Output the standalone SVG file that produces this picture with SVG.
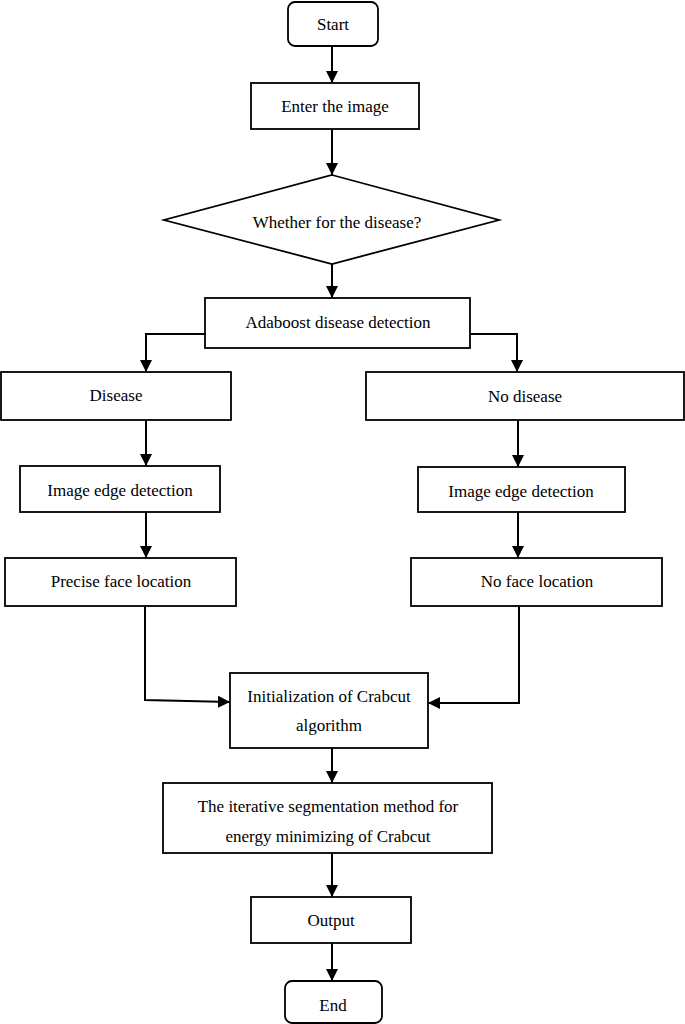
<svg xmlns="http://www.w3.org/2000/svg" width="685" height="1024" viewBox="0 0 685 1024">
<style>
.box{fill:#fff;stroke:#000;stroke-width:1.8}
.t{font-family:"Liberation Serif","Times New Roman",serif;font-size:17px;fill:#000;text-anchor:middle}
.c{fill:none;stroke:#000;stroke-width:2}
</style>
<defs>
<marker id="ah" markerUnits="userSpaceOnUse" markerWidth="12" markerHeight="12" refX="12" refY="6" orient="auto">
<path d="M0,0 L12,6 L0,12 Z" fill="#000"/>
</marker>
</defs>
<rect width="685" height="1024" fill="#fff"/>
<g id="connectors">
<line class="c" x1="332" y1="46" x2="332" y2="83" marker-end="url(#ah)"/>
<line class="c" x1="332" y1="129" x2="332" y2="175" marker-end="url(#ah)"/>
<line class="c" x1="332" y1="264" x2="332" y2="298" marker-end="url(#ah)"/>
<polyline class="c" points="205,334 146,334 146,372" marker-end="url(#ah)"/>
<polyline class="c" points="470,334 517,334 517,372" marker-end="url(#ah)"/>
<line class="c" x1="146" y1="420" x2="146" y2="466" marker-end="url(#ah)"/>
<line class="c" x1="518" y1="420" x2="518" y2="467" marker-end="url(#ah)"/>
<line class="c" x1="146" y1="512" x2="146" y2="558" marker-end="url(#ah)"/>
<line class="c" x1="518" y1="512" x2="518" y2="558" marker-end="url(#ah)"/>
<polyline class="c" points="145,606 145,700 230,702" marker-end="url(#ah)"/>
<polyline class="c" points="519,606 519,703 428,703" marker-end="url(#ah)"/>
<line class="c" x1="332" y1="748" x2="332" y2="783" marker-end="url(#ah)"/>
<line class="c" x1="332" y1="853" x2="332" y2="897" marker-end="url(#ah)"/>
<line class="c" x1="332" y1="943" x2="332" y2="981" marker-end="url(#ah)"/>
</g>
<g id="start"><rect class="box" x="288" y="2" width="90" height="44" rx="7"/><text class="t" x="333" y="30">Start</text></g>
<g id="enter"><rect class="box" x="251" y="83" width="168" height="46"/><text class="t" x="335" y="112">Enter the image</text></g>
<g id="decision"><polygon class="box" points="332,175 499,220 332,264 164,220"/><text class="t" x="337" y="228">Whether for the disease?</text></g>
<g id="adaboost"><rect class="box" x="205" y="298" width="265" height="50"/><text class="t" x="338" y="328">Adaboost disease detection</text></g>
<g id="disease"><rect class="box" x="1" y="372" width="230" height="48"/><text class="t" x="116" y="401">Disease</text></g>
<g id="nodisease"><rect class="box" x="366" y="372" width="318" height="48"/><text class="t" x="525" y="402">No disease</text></g>
<g id="edgeL"><rect class="box" x="20" y="466" width="200" height="46"/><text class="t" x="120" y="496">Image edge detection</text></g>
<g id="edgeR"><rect class="box" x="418" y="467" width="207" height="45"/><text class="t" x="521" y="497">Image edge detection</text></g>
<g id="precise"><rect class="box" x="5" y="558" width="231" height="48"/><text class="t" x="121" y="587">Precise face location</text></g>
<g id="noface"><rect class="box" x="411" y="558" width="251" height="48"/><text class="t" x="537" y="587">No face location</text></g>
<g id="init"><rect class="box" x="230" y="673" width="198" height="75"/><text class="t" x="329" y="702">Initialization of Crabcut</text><text class="t" x="329" y="731">algorithm</text></g>
<g id="iter"><rect class="box" x="163" y="783" width="329" height="70"/><text class="t" x="328" y="812">The iterative segmentation method for</text><text class="t" x="328" y="842">energy minimizing of Crabcut</text></g>
<g id="output"><rect class="box" x="251" y="897" width="160" height="46"/><text class="t" x="331" y="926">Output</text></g>
<g id="end"><rect class="box" x="285" y="981" width="97" height="42" rx="7"/><text class="t" x="333" y="1011">End</text></g>
</svg>
